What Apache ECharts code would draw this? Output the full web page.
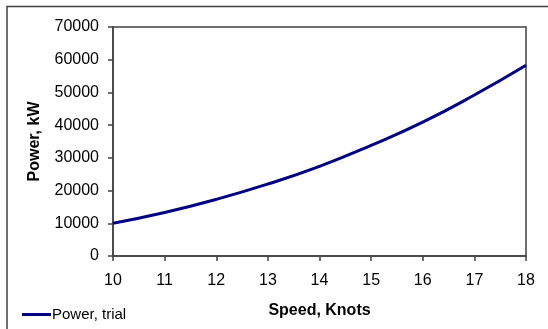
<!DOCTYPE html>
<html>
<head>
<meta charset="utf-8">
<script src="https://cdn.jsdelivr.net/npm/echarts@6/dist/echarts.min.js"></script>
<style>
html,body{margin:0;padding:0;background:#fff;}
#chart{width:548px;height:329px;}
</style>
</head>
<body>
<div id="chart"></div>
<script>
var speeds = [10, 11, 12, 13, 14, 15, 16, 17, 18];
var powerTrial = [10000, 13300, 17300, 22000, 27400, 33800, 40900, 49200, 58300];
var yTicks = [0, 10000, 20000, 30000, 40000, 50000, 60000, 70000];
var seriesName = 'Power, trial';
var xTitle = 'Speed, Knots';
var yTitle = 'Power, kW';

var chart = echarts.init(document.getElementById('chart'), null, {renderer: 'canvas'});
var font = 'Arial, "Liberation Sans", sans-serif';
var axisColor = '#404040';

chart.setOption({
  animation: false,
  backgroundColor: '#fff',
  graphic: [
    {type: 'polyline', shape: {points: [[7, 329], [7, 6.5], [548, 6.5]]},
     style: {stroke: '#404040', lineWidth: 1.5, fill: null}, silent: true}
  ],
  grid: {left: 113, top: 27, right: 22, bottom: 73, show: true, borderColor: axisColor, borderWidth: 1.5, containLabel: false},
  legend: {
    left: 17, top: 302,
    icon: 'rect', itemWidth: 29, itemHeight: 3, itemGap: 0,
    textStyle: {fontFamily: font, fontSize: 15, color: '#000', padding: [0, 0, 0, -4]},
    data: [seriesName]
  },
  xAxis: {
    type: 'value', min: speeds[0], max: speeds[speeds.length - 1], interval: 1,
    name: xTitle, nameLocation: 'middle', nameGap: 47,
    nameTextStyle: {fontFamily: font, fontSize: 16, fontWeight: 'bold', color: '#000'},
    axisLine: {show: true, lineStyle: {color: axisColor, width: 1.5}},
    axisTick: {show: true, inside: false, length: 5, lineStyle: {color: axisColor, width: 1.5}},
    axisLabel: {fontFamily: font, fontSize: 16, color: '#000', margin: 17},
    splitLine: {show: false}
  },
  yAxis: {
    type: 'value', min: yTicks[0], max: yTicks[yTicks.length - 1], interval: yTicks[1] - yTicks[0],
    name: yTitle, nameLocation: 'middle', nameGap: 70, nameRotate: 90,
    nameTextStyle: {fontFamily: font, fontSize: 16, fontWeight: 'bold', color: '#000'},
    axisLine: {show: true, lineStyle: {color: axisColor, width: 1.5}},
    axisTick: {show: true, inside: false, length: 5, lineStyle: {color: axisColor, width: 1.5}},
    axisLabel: {fontFamily: font, fontSize: 16, color: '#000', margin: 14,
      formatter: function (v) { return String(v); }},
    splitLine: {show: false}
  },
  series: [{
    name: seriesName, type: 'line', smooth: true, showSymbol: false, symbol: 'none',
    data: speeds.map(function (s, i) { return [s, powerTrial[i]]; }),
    lineStyle: {color: '#000080', width: 3},
    itemStyle: {color: '#000080'}
  }]
});
</script>
</body>
</html>
